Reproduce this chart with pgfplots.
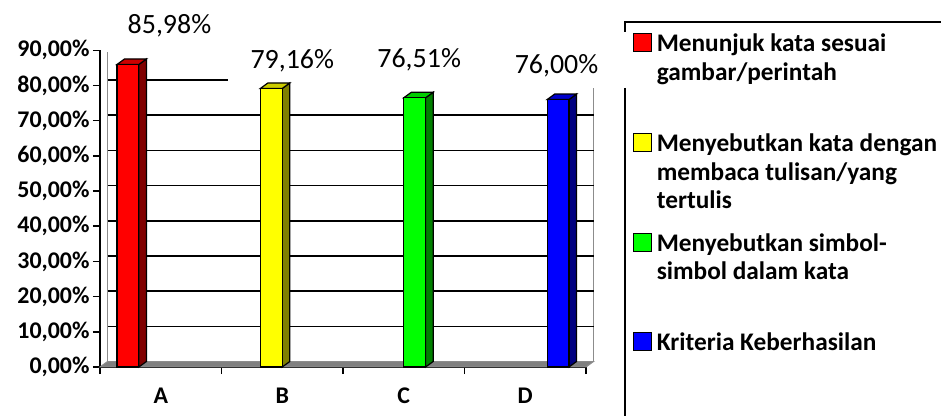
\documentclass[border=0pt]{standalone}
\usepackage{fontspec}
\setmainfont{Carlito}
\usepackage{pgfplots}
\pgfplotsset{compat=1.18}

\definecolor{barred}{HTML}{FF0000}
\definecolor{baryellow}{HTML}{FFFF00}
\definecolor{bargreen}{HTML}{00FF00}
\definecolor{barblue}{HTML}{0000FF}
\definecolor{sidered}{HTML}{800000}
\definecolor{sideyellow}{HTML}{808000}
\definecolor{sidegreen}{HTML}{008000}
\definecolor{sideblue}{HTML}{000080}
\definecolor{wallgray}{HTML}{8C8C8C}

\newcommand{\keybox}[1]{\addlegendimage{legend image code/.code={\draw[fill=#1,draw=black,line width=1.2bp] (0bp,0bp) rectangle (18bp,18bp);}}}

\begin{document}
\begin{tikzpicture}
\path[use as bounding box] (0,0) rectangle (941bp,416bp);
\begin{axis}[
  at={(100bp,49bp)}, anchor=south west,
  scale only axis, width=486bp, height=316.7bp,
  xmin=-0.5, xmax=3.5, ymin=0, ymax=90,
  enlargelimits=false, clip=false,
  axis lines*=left,
  axis line style={black, line width=1.8bp},
  tick align=outside,
  major tick length=7bp,
  tick style={black, line width=1.6bp},
  ytick={0,10,...,90},
  /pgf/number format/assume math mode=true,
  yticklabel={\pgfmathprintnumber[fixed,fixed zerofill,precision=2,use comma]{\tick}\%},
  yticklabel style={font=\bfseries\fontsize{24}{28}\selectfont, black},
  xtick={-0.5,0.5,1.5,2.5,3.5},
  xticklabels={},
  extra x ticks={0,1,2,3},
  extra x tick labels={A,B,C,D},
  extra x tick style={major tick length=0pt,
    xticklabel style={font=\bfseries\fontsize{24}{28}\selectfont, black, anchor=base, yshift=-37bp}},
  legend cell align=left,
  legend style={at={(1.0955,1.0586)}, anchor=north west, draw=none, fill=none,
    inner sep=0pt, row sep=0pt, column sep=5bp,
    cells={anchor=base west},
    nodes={inner sep=0pt, text depth=, anchor=base west},
    font=\bfseries\fontsize{25.4}{28.5}\selectfont},
]

% floor of the 3-D chart
\addplot[forget plot, fill=gray, draw=wallgray, line width=1bp]
  coordinates {(-0.5,0) (3.5,0) (3.562,1.56) (-0.438,1.56)} -- cycle;

% back wall edges
\addplot[forget plot, wallgray, line width=1.6bp] coordinates {(-0.438,1.56) (-0.438,89.5)};
\addplot[forget plot, wallgray, line width=1.6bp] coordinates {(3.562,1.56) (3.562,79.3)};

% gridlines on the back wall
\addplot[forget plot, black, line width=1.6bp] coordinates {(-0.438,11.56) (3.562,11.56)};
\addplot[forget plot, black, line width=1.6bp] coordinates {(-0.438,21.56) (3.562,21.56)};
\addplot[forget plot, black, line width=1.6bp] coordinates {(-0.438,31.56) (3.562,31.56)};
\addplot[forget plot, black, line width=1.6bp] coordinates {(-0.438,41.56) (3.562,41.56)};
\addplot[forget plot, black, line width=1.6bp] coordinates {(-0.438,51.56) (3.562,51.56)};
\addplot[forget plot, black, line width=1.6bp] coordinates {(-0.438,61.56) (3.562,61.56)};
\addplot[forget plot, black, line width=1.6bp] coordinates {(-0.438,71.56) (3.562,71.56)};
\addplot[forget plot, black, line width=1.6bp] coordinates {(-0.438,81.56) (0.553,81.56)};

% side and top faces of the bars
\addplot[forget plot, fill=sidered, draw=black, line width=1.2bp]
  coordinates {(-0.18,0) (-0.118,1.56) (-0.118,87.54) (-0.18,85.98)} -- cycle;
\addplot[forget plot, fill=barred!80!black, draw=black, line width=1.2bp]
  coordinates {(-0.36,85.98) (-0.298,87.54) (-0.118,87.54) (-0.18,85.98)} -- cycle;
\addplot[forget plot, fill=sideyellow, draw=black, line width=1.2bp]
  coordinates {(1.00,0) (1.062,1.56) (1.062,80.72) (1.00,79.16)} -- cycle;
\addplot[forget plot, fill=baryellow!80!black, draw=black, line width=1.2bp]
  coordinates {(0.82,79.16) (0.882,80.72) (1.062,80.72) (1.00,79.16)} -- cycle;
\addplot[forget plot, fill=sidegreen, draw=black, line width=1.2bp]
  coordinates {(2.18,0) (2.242,1.56) (2.242,78.07) (2.18,76.51)} -- cycle;
\addplot[forget plot, fill=bargreen!80!black, draw=black, line width=1.2bp]
  coordinates {(2.00,76.51) (2.062,78.07) (2.242,78.07) (2.18,76.51)} -- cycle;
\addplot[forget plot, fill=sideblue, draw=black, line width=1.2bp]
  coordinates {(3.36,0) (3.422,1.56) (3.422,77.56) (3.36,76.00)} -- cycle;
\addplot[forget plot, fill=barblue!80!black, draw=black, line width=1.2bp]
  coordinates {(3.18,76.00) (3.242,77.56) (3.422,77.56) (3.36,76.00)} -- cycle;

% front faces with value labels
\pgfplotsset{
  value label/.style 2 args={
    nodes near coords={\pgfmathprintnumber[fixed,fixed zerofill,precision=2,use comma]{\pgfplotspointmeta}\%},
    point meta=y,
    every node near coord/.append style={font=\fontsize{28}{32}\selectfont, black,
      anchor=base, xshift=#1, yshift=#2}},
  front bar/.style={forget plot, ybar, bar width=0.18, bar shift=0pt, draw=black, line width=1.2bp, fill=#1}
}
\addplot[front bar=barred, value label={41.5bp}{31.4bp}] coordinates {(-0.27,85.98)};
\addplot[front bar=baryellow, value label={21bp}{20.4bp}] coordinates {(0.91,79.16)};
\addplot[front bar=bargreen, value label={4.5bp}{29.8bp}] coordinates {(2.09,76.51)};
\addplot[front bar=barblue, value label={-1.5bp}{25.6bp}] coordinates {(3.27,76.00)};

% legend
\keybox{barred}
\addlegendentry{\begin{tabular}[t]{@{}l@{}}Menunjuk kata sesuai\\gambar/perintah\rule[-51.55bp]{0pt}{0pt}\end{tabular}}
\keybox{baryellow}
\addlegendentry{\begin{tabular}[t]{@{}l@{}}Menyebutkan kata dengan\\membaca tulisan/yang\\tertulis\rule[-23.05bp]{0pt}{0pt}\end{tabular}}
\keybox{bargreen}
\addlegendentry{\begin{tabular}[t]{@{}l@{}}Menyebutkan simbol-\\simbol dalam kata\rule[-50.55bp]{0pt}{0pt}\end{tabular}}
\keybox{barblue}
\addlegendentry{\begin{tabular}[t]{@{}l@{}}Kriteria Keberhasilan\end{tabular}}
\end{axis}

% legend frame
\draw[black, line width=2.2bp] (625bp,384bp) -- (625bp,394.3bp) -- (941bp,394.3bp);
\draw[black, line width=2.2bp] (625bp,328bp) -- (625bp,0bp);
\end{tikzpicture}
\end{document}
